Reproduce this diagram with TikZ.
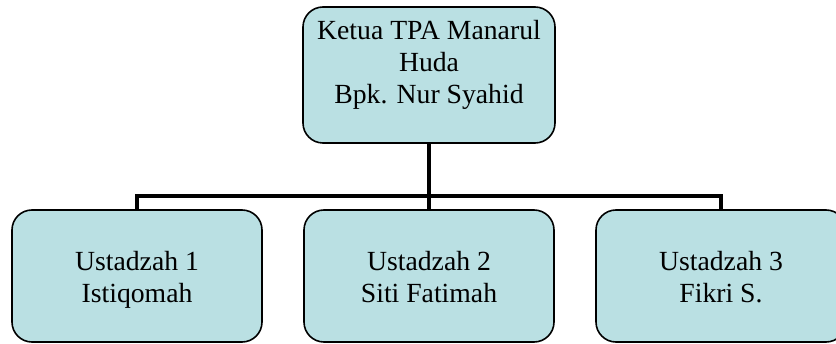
\documentclass[tikz,border=0pt]{standalone}
\usepackage{fontspec}
\setmainfont{Liberation Serif}
\definecolor{boxfill}{RGB}{186,224,227}
\begin{document}
\begin{tikzpicture}[x=1pt,y=1pt,
  box/.style={draw=black, line width=1.6pt, fill=boxfill, rounded corners=20pt, inner sep=0pt},
  txt/.style={align=center, inner sep=0pt, font=\fontsize{27.7}{32}\selectfont, text=black},
  conn/.style={draw=black, line width=4.5pt, line join=miter, line cap=butt}]
\useasboundingbox (0,0) rectangle (836,343);
\fill[white] (0,0) rectangle (836,343);
% top box
\node[box, minimum width=252pt, minimum height=136pt] (top) at (429,268) {};
\node[txt, anchor=north] (toptext) at (429,323) {Ketua TPA Manarul\\Huda\\Bpk. Nur Syahid};
% bottom boxes
\node[box, minimum width=250pt, minimum height=132pt] (b1) at (137,67) {};
\node[box, minimum width=250pt, minimum height=132pt] (b2) at (429,67) {};
\node[box, minimum width=250pt, minimum height=132pt] (b3) at (721,67) {};
\node[txt, anchor=north] (t1) at (137,92) {Ustadzah 1\\Istiqomah};
\node[txt, anchor=north] (t2) at (429,92) {Ustadzah 2\\Siti Fatimah};
\node[txt, anchor=north] (t3) at (721,92) {Ustadzah 3\\Fikri S.};
% connectors
\coordinate (bar) at (0,147);
\draw[conn] (top.south) -- (b2.north);
\draw[conn] (b1.north) -- (b1.north |- bar) -- (b3.north |- bar) -- (b3.north);
\end{tikzpicture}
\end{document}
